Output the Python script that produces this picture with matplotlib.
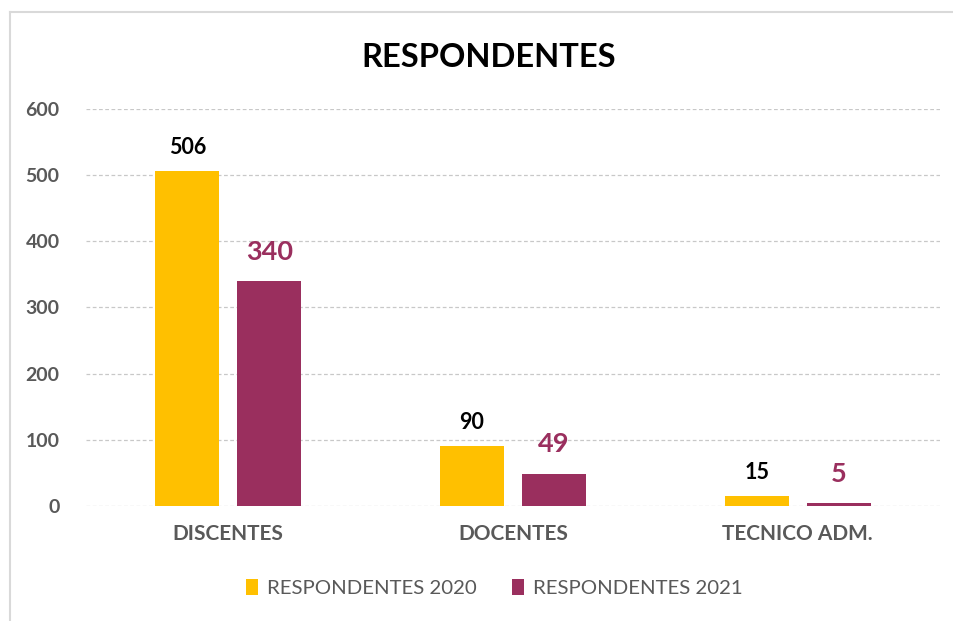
import matplotlib.pyplot as plt
import numpy as np
from matplotlib.lines import Line2D

# Data
categories = ['DISCENTES', 'DOCENTES', 'TECNICO ADM.']
resp_2020 = [506, 90, 15]
resp_2021 = [340, 49, 5]
series_names = ['RESPONDENTES 2020', 'RESPONDENTES 2021']

gold = '#FFC000'
maroon = '#9A2F5E'
gray = '#595959'

plt.rcParams['font.family'] = ['Lato', 'DejaVu Sans']

fig = plt.figure(figsize=(9.54, 6.21), dpi=100, facecolor='white')
# light chart frame (only left and top edges are visible in the crop)
fx, fy = 10 / 954, 1 - 12 / 621
fig.lines.append(Line2D([fx, fx], [0, fy], transform=fig.transFigure, color='#d9d9d9', linewidth=1.5))
fig.lines.append(Line2D([fx, 1], [fy, fy], transform=fig.transFigure, color='#d9d9d9', linewidth=1.5))

ax = fig.add_axes([0.0901, 0.1852, 0.8952, 0.6393])

x = np.arange(len(categories))
w = 0.225
off = 0.144
ax.bar(x - off, resp_2020, w, color=gold, label=series_names[0], zorder=3)
ax.bar(x + off, resp_2021, w, color=maroon, label=series_names[1], zorder=3)

# value labels
for i, v in enumerate(resp_2020):
    ax.annotate(str(v), (x[i] - off, v), xytext=(0, 17), textcoords='offset points',
                ha='center', va='center', fontsize=15.5, fontweight='bold', color='black')
for i, v in enumerate(resp_2021):
    ax.annotate(str(v), (x[i] + off, v), xytext=(0, 21), textcoords='offset points',
                ha='center', va='center', fontsize=19.5, fontweight='bold', color=maroon)

ax.set_xlim(-0.5, 2.5)
ax.set_ylim(0, 600)
ax.set_yticks(range(0, 601, 100))
ax.set_xticks(x)
ax.set_xticklabels(categories, fontsize=15, fontweight='bold', color=gray)
ax.tick_params(axis='y', labelsize=14, labelcolor=gray, length=0, pad=19)
ax.tick_params(axis='x', length=0, pad=13)
for lbl in ax.get_yticklabels():
    lbl.set_fontweight('bold')

ax.grid(axis='y', color='#c8c8c8', linestyle=(0, (3, 2)), linewidth=0.9, zorder=0)
for s in ax.spines.values():
    s.set_visible(False)

fig.text(0.5126, 0.908, 'RESPONDENTES', ha='center', va='center', fontsize=23.5, fontweight='bold', color='black')

leg = fig.legend(loc='center', bbox_to_anchor=(0.518, 0.053), ncol=2, frameon=False,
                 fontsize=14.7, handlelength=0.6, handleheight=0.8, handletextpad=0.45, columnspacing=1.7)
for t in leg.get_texts():
    t.set_color(gray)

fig.savefig('out.png', dpi=100, facecolor='white')
